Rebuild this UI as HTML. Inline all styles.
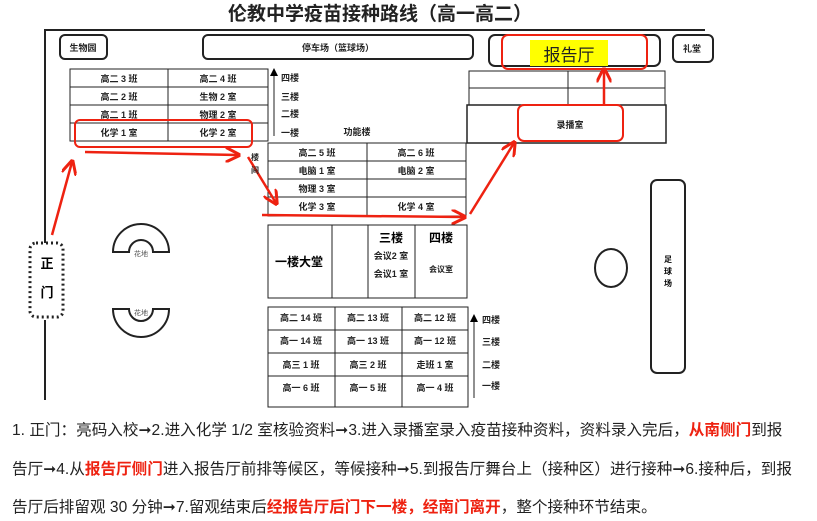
<!DOCTYPE html>
<html><head><meta charset="utf-8"><style>
body{margin:0;width:817px;height:521px;background:#fff;overflow:hidden;position:relative;font-family:"Liberation Sans","Noto Sans CJK SC",sans-serif}
.t{position:absolute;left:12px;font-size:15.6px;white-space:nowrap;color:#222;line-height:20px}
.r{color:#e21}
</style></head><body>
<svg width="817" height="410" style="position:absolute;left:0;top:0" font-family="Liberation Sans, Noto Sans CJK SC, sans-serif">
<defs><marker id="a" markerWidth="6" markerHeight="6" refX="5" refY="3" orient="auto" markerUnits="strokeWidth"><path d="M0,0 L6,3 L0,6" fill="none" stroke="#e21" stroke-width="1.2"/></marker>
<marker id="b" markerWidth="8" markerHeight="8" refX="4" refY="4" orient="auto"><path d="M0,0 L8,4 L0,8z" fill="#000"/></marker></defs>
<text x="380" y="20" text-anchor="middle" font-size="19" font-weight="bold" fill="#222">伦教中学疫苗接种路线（高一高二）</text>
<g stroke="#222" fill="none">
<path d="M45,243 V30 H705" stroke-width="2"/>
<path d="M45,320 V400" stroke-width="2"/>
<rect x="60" y="35" width="47" height="24" rx="5" stroke-width="2"/>
<rect x="203" y="35" width="270" height="24" rx="5" stroke-width="2"/>
<rect x="489" y="35" width="171" height="31" rx="6" stroke-width="2"/>
<rect x="673" y="35" width="40" height="27" rx="5" stroke-width="2"/>
<rect x="70" y="69" width="198" height="72" stroke-width="1"/>
<path d="M70,87H268M70,105H268M70,123H268M168,69V141" stroke-width="1"/>
<rect x="268" y="143" width="198" height="73"/>
<path d="M268,161H466M268,179H466M268,197H466M367,143V216"/>
<rect x="469" y="71" width="196" height="34"/>
<path d="M469,88H665M568,71V105"/>
<rect x="467" y="105" width="199" height="38" stroke-width="1.5"/>
<rect x="268" y="225" width="199" height="73"/>
<path d="M332,225V298M368,225V298M415,225V298"/>
<rect x="268" y="307" width="200" height="100"/>
<path d="M268,330H468M268,353H468M268,376H468M335,307V407M402,307V407"/>
<path d="M274,136V72" marker-end="url(#b)"/>
<path d="M474,398V318" marker-end="url(#b)"/>
<rect x="30" y="243" width="33" height="74" rx="6" stroke-width="3" stroke-dasharray="2,3"/>
<path d="M113,252 A28,28 0 0 1 169,252 H153 A12,12 0 0 0 129,252Z" stroke-width="2"/>
<path d="M113,309 A28,28 0 0 0 169,309 H153 A12,12 0 0 1 129,309Z" stroke-width="2"/>
<ellipse cx="611" cy="268" rx="16" ry="19" stroke-width="2"/>
<rect x="651" y="180" width="34" height="193" rx="6" stroke-width="2"/>
</g>
<rect x="530" y="40" width="78" height="26" fill="#ff0"/>
<g fill="none" stroke="#e21" stroke-width="2.5">
<rect x="502" y="35" width="145" height="34" rx="6" stroke-width="2"/>
<rect x="75" y="120" width="177" height="27" rx="5" stroke-width="2"/>
<rect x="518" y="105" width="105" height="36" rx="6" stroke-width="2"/>
<path d="M52,235 L72,162" marker-end="url(#a)"/>
<path d="M85,152 L238,155" marker-end="url(#a)"/>
<path d="M248,157 L276,203" marker-end="url(#a)"/>
<path d="M262,215 L464,217" marker-end="url(#a)"/>
<path d="M470,214 L514,143" marker-end="url(#a)"/>
<path d="M604,106 L604,70" marker-end="url(#a)"/>
</g>
<g font-size="9" font-weight="bold" fill="#222" text-anchor="middle">
<text x="83" y="51">生物园</text><text x="338" y="51">停车场（篮球场）</text><text x="692" y="52">礼堂</text>
<text x="119" y="82">高二 3 班</text><text x="218" y="82">高二 4 班</text>
<text x="119" y="100">高二 2 班</text><text x="218" y="100">生物 2 室</text>
<text x="119" y="118">高二 1 班</text><text x="218" y="118">物理 2 室</text>
<text x="119" y="136">化学 1 室</text><text x="218" y="136">化学 2 室</text>
<text x="317" y="156">高二 5 班</text><text x="416" y="156">高二 6 班</text>
<text x="317" y="174">电脑 1 室</text><text x="416" y="174">电脑 2 室</text>
<text x="317" y="192">物理 3 室</text>
<text x="317" y="210">化学 3 室</text><text x="416" y="210">化学 4 室</text>
<text x="570" y="128">录播室</text>
<text x="301" y="309" dy="12">高二 14 班</text><text x="368" y="321">高二 13 班</text><text x="435" y="321">高二 12 班</text>
<text x="301" y="344">高一 14 班</text><text x="368" y="344">高一 13 班</text><text x="435" y="344">高一 12 班</text>
<text x="301" y="368">高三 1 班</text><text x="368" y="368">高三 2 班</text><text x="435" y="368">走班 1 室</text>
<text x="301" y="391">高一 6 班</text><text x="368" y="391">高一 5 班</text><text x="435" y="391">高一 4 班</text>
<text x="391" y="259">会议2 室</text><text x="391" y="277">会议1 室</text><text x="441" y="272" font-size="8">会议室</text>
<text x="357" y="135">功能楼</text>
</g>
<g font-size="9" font-weight="bold" fill="#222">
<text x="281" y="81">四楼</text><text x="281" y="100">三楼</text><text x="281" y="117">二楼</text><text x="281" y="136">一楼</text>
<text x="482" y="323">四楼</text><text x="482" y="345">三楼</text><text x="482" y="368">二楼</text><text x="482" y="389">一楼</text>
<text x="251" y="160" font-size="8">楼</text><text x="251" y="173" font-size="8">间</text>
</g>
<text x="299" y="266" text-anchor="middle" font-size="12" font-weight="bold">一楼大堂</text>
<text x="391" y="242" text-anchor="middle" font-size="12" font-weight="bold">三楼</text>
<text x="441" y="242" text-anchor="middle" font-size="12" font-weight="bold">四楼</text>
<text x="569" y="61" text-anchor="middle" font-size="17" fill="#222">报告厅</text>
<text x="47" y="268" text-anchor="middle" font-size="13" font-weight="bold">正</text>
<text x="47" y="297" text-anchor="middle" font-size="13" font-weight="bold">门</text>
<text x="141" y="256" text-anchor="middle" font-size="7" fill="#555">花地</text>
<text x="141" y="315" text-anchor="middle" font-size="7" fill="#555">花地</text>
<text x="668" y="262" text-anchor="middle" font-size="8" font-weight="bold">足</text>
<text x="668" y="274" text-anchor="middle" font-size="8" font-weight="bold">球</text>
<text x="668" y="286" text-anchor="middle" font-size="8" font-weight="bold">场</text>
</svg>
<div class="t" style="top:421px">1. 正门：亮码入校➞2.进入化学 1/2 室核验资料➞3.进入录播室录入疫苗接种资料，资料录入完后，<b class="r">从南侧门</b>到报</div>
<div class="t" style="top:460px">告厅➞4.从<b class="r">报告厅侧门</b>进入报告厅前排等候区，等候接种➞5.到报告厅舞台上（接种区）进行接种➞6.接种后，到报</div>
<div class="t" style="top:498px">告厅后排留观 30 分钟➞7.留观结束后<b class="r">经报告厅后门下一楼，经南门离开</b>，整个接种环节结束。</div>
</body></html>
